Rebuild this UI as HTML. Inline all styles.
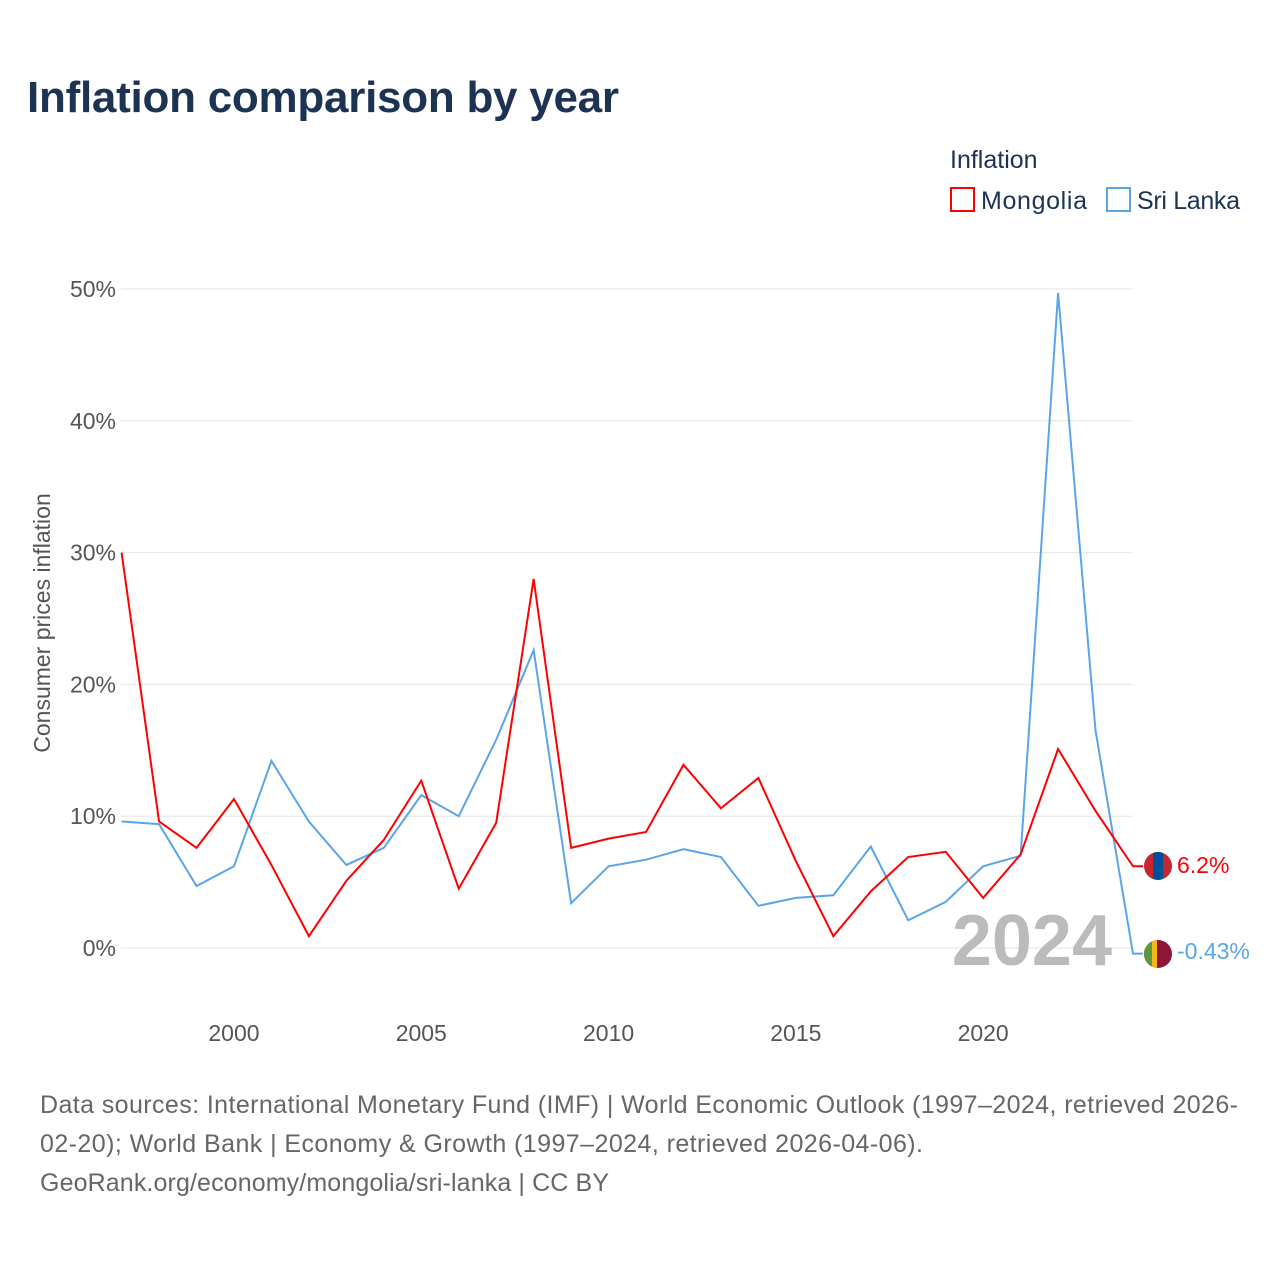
<!DOCTYPE html>
<html><head><meta charset="utf-8"><style>
body{margin:0;background:#fff;width:1280px;height:1280px;overflow:hidden;font-family:"Liberation Sans",sans-serif}
svg text{font-family:"Liberation Sans",sans-serif}
</style></head><body>
<svg id="chart" width="1280" height="1280" viewBox="0 0 1280 1280">
<defs><clipPath id="c1"><circle cx="1158" cy="866" r="14"/></clipPath><clipPath id="c2"><circle cx="1158" cy="954" r="14"/></clipPath></defs>
<text x="27" y="112" font-size="44" font-weight="bold" fill="#1c3354" textLength="592">Inflation comparison by year</text>
<text x="950" y="168" font-size="25" fill="#1c3354">Inflation</text>
<g><rect x="951" y="188" width="23" height="23" fill="none" stroke="#f00" stroke-width="2"/><text x="981" y="209" font-size="25" fill="#1c3354" textLength="106">Mongolia</text></g>
<g><rect x="1107" y="188" width="23" height="23" fill="none" stroke="#5aa5ea" stroke-width="2"/><text x="1137" y="209" font-size="25" fill="#1c3354" textLength="103">Sri Lanka</text></g>
<text transform="translate(50,623) rotate(-90)" text-anchor="middle" font-size="23" fill="#555">Consumer prices inflation</text>
<g id="grid"></g><g id="xt"></g>
<text x="1112" y="965" text-anchor="end" font-size="72" font-weight="bold" fill="#bbb">2024</text>
<g id="lines"></g>
<g clip-path="url(#c1)"><rect x="1144" y="852" width="28" height="28" fill="#c4272f"/><rect x="1153" y="852" width="10" height="28" fill="#015197"/></g>
<g clip-path="url(#c2)"><rect x="1144" y="940" width="28" height="28" fill="#8d153a"/><rect x="1144" y="940" width="9" height="28" fill="#5a9a3a"/><rect x="1152" y="940" width="5" height="28" fill="#f7b718"/></g>
<text x="1177" y="873" font-size="23" fill="#f00">6.2%</text>
<text x="1177" y="959" font-size="23" fill="#5aa5ea">-0.43%</text>
<text font-size="25" fill="#666"><tspan x="40" y="1113" textLength="1198">Data sources: International Monetary Fund (IMF) | World Economic Outlook (1997–2024, retrieved 2026-</tspan><tspan x="40" y="1152" textLength="883">02-20); World Bank | Economy &amp; Growth (1997–2024, retrieved 2026-04-06).</tspan><tspan x="40" y="1191" textLength="569">GeoRank.org/economy/mongolia/sri-lanka | CC BY</tspan></text>
</svg>
<script>
const years=[1997,1998,1999,2000,2001,2002,2003,2004,2005,2006,2007,2008,2009,2010,2011,2012,2013,2014,2015,2016,2017,2018,2019,2020,2021,2022,2023,2024];
const mongolia=[30.0,9.6,7.6,11.3,6.3,0.9,5.1,8.2,12.7,4.5,9.5,28.0,7.6,8.3,8.8,13.9,10.6,12.9,6.6,0.9,4.3,6.9,7.3,3.8,7.1,15.1,10.4,6.2];
const sriLanka=[9.6,9.4,4.7,6.2,14.2,9.6,6.3,7.6,11.6,10.0,15.8,22.6,3.4,6.2,6.7,7.5,6.9,3.2,3.8,4.0,7.7,2.1,3.5,6.2,7.0,49.7,16.5,-0.43];
const yTicks=[0,10,20,30,40,50];
const xTicks=[2000,2005,2010,2015,2020];
const NS="http://www.w3.org/2000/svg";
const x=v=>121.6+(v-1997)*(1133-121.6)/27;
const y=v=>948-v*13.18;
const grid=document.getElementById('grid'),xt=document.getElementById('xt'),lines=document.getElementById('lines');
yTicks.forEach(t=>{
 const l=document.createElementNS(NS,'line');
 
 
 l.setAttribute('x1',121);l.setAttribute('x2',1133);l.setAttribute('y1',y(t));l.setAttribute('y2',y(t));l.setAttribute('stroke','#e6e6e6');
 grid.appendChild(l);
 const tx=document.createElementNS(NS,'text');
 
 
 tx.setAttribute('x',116);tx.setAttribute('y',y(t)+8);tx.setAttribute('text-anchor','end');tx.setAttribute('font-size','23');tx.setAttribute('fill','#555');
 tx.textContent=t+'%';grid.appendChild(tx);
});
xTicks.forEach(t=>{
 const tx=document.createElementNS(NS,'text');
 
 
 tx.setAttribute('x',x(t));tx.setAttribute('y',1041);tx.setAttribute('text-anchor','middle');tx.setAttribute('font-size','23');tx.setAttribute('fill','#555');
 tx.textContent=t;xt.appendChild(tx);
});
function draw(vals,color,name){
 const p=document.createElementNS(NS,'polyline');
 
 
 const pts=vals.map((v,i)=>x(years[i])+','+y(v));
 pts.push((x(years[years.length-1])+10)+','+y(vals[vals.length-1]));
 p.setAttribute('points',pts.join(' '));
 p.setAttribute('fill','none');p.setAttribute('stroke',color);p.setAttribute('stroke-width','2');
 lines.appendChild(p);
}
draw(sriLanka,'#5aa5ea','sri-lanka-line');
draw(mongolia,'#f00','mongolia-line');
</script>
</body></html>
